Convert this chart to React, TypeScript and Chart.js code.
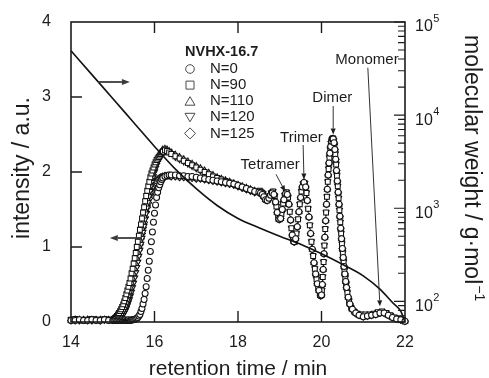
import React, { useEffect, useRef } from 'react';
import { Chart, registerables } from 'chart.js';

Chart.register(...registerables);

const FONT = '"Liberation Sans", Arial, sans-serif';
const INK = '#1c1c1c';

// ---- axis tick labels ----
const X_TICKS = [14, 16, 18, 20, 22];
const Y_TICKS = [0, 1, 2, 3, 4];
const MW_EXPONENTS = [2, 3, 4, 5];

// ---- legend ----
const LEGEND_TITLE = 'NVHX-16.7';
const SERIES_NAMES = ['N=0', 'N=90', 'N=110', 'N=120', 'N=125'];

// ---- retention time grid for the leading part of every trace (min) ----
const TIME_HEAD = [
  14.0, 14.1, 14.2, 14.3, 14.4, 14.5, 14.6, 14.7, 14.8, 14.9, 15.0,
  15.025, 15.05, 15.075, 15.1,
  15.125, 15.15, 15.175, 15.2,
  15.225, 15.25, 15.275, 15.3,
  15.325, 15.35, 15.375, 15.4,
  15.425, 15.45, 15.475, 15.5,
  15.525, 15.55, 15.575, 15.6,
  15.625, 15.65, 15.675, 15.7,
  15.725, 15.75, 15.775, 15.8,
  15.825, 15.85, 15.875, 15.9,
  15.925, 15.95, 15.975, 16.0,
  16.025, 16.05, 16.075, 16.1,
  16.125, 16.15, 16.175, 16.2,
  16.25, 16.3, 16.35, 16.4,
  16.5, 16.6, 16.7, 16.8, 16.9, 17.0, 17.1, 17.2, 17.3, 17.4,
  17.5, 17.6, 17.7, 17.8, 17.9, 18.0, 18.1, 18.2, 18.3, 18.4,
];

// ---- intensities on TIME_HEAD ----
const I_N0 = [
  0.02, 0.02, 0.03, 0.02, 0.02, 0.03, 0.02, 0.02, 0.03, 0.02, 0.02,
  0.02, 0.02, 0.03, 0.02,
  0.02, 0.03, 0.02, 0.02,
  0.03, 0.02, 0.02, 0.03,
  0.02, 0.02, 0.03, 0.02,
  0.02, 0.03, 0.03, 0.03,
  0.035, 0.04, 0.05, 0.06,
  0.08, 0.1, 0.14, 0.18,
  0.24, 0.3, 0.38, 0.47,
  0.58, 0.69, 0.81, 0.94,
  1.07, 1.2, 1.33, 1.45,
  1.56, 1.66, 1.73, 1.79,
  1.83, 1.87, 1.9, 1.92,
  1.94, 1.95, 1.96, 1.96,
  1.96, 1.95, 1.95, 1.94, 1.94, 1.93, 1.92, 1.91, 1.9, 1.89,
  1.88, 1.87, 1.86, 1.85, 1.84, 1.82, 1.8, 1.78, 1.76, 1.74,
];
const I_N90 = [
  0.03, 0.04, 0.03, 0.02, 0.03, 0.04, 0.03, 0.03, 0.04, 0.03, 0.03,
  0.04, 0.05, 0.065, 0.08,
  0.1, 0.12, 0.145, 0.17,
  0.2, 0.235, 0.275, 0.32,
  0.37, 0.42, 0.47, 0.52,
  0.58, 0.65, 0.71, 0.78,
  0.85, 0.92, 1.0, 1.07,
  1.15, 1.23, 1.3, 1.38,
  1.46, 1.53, 1.61, 1.68,
  1.75, 1.81, 1.87, 1.93,
  1.98, 2.02, 2.06, 2.1,
  2.13, 2.16, 2.18, 2.2,
  2.22, 2.24, 2.26, 2.27,
  2.29, 2.28, 2.26, 2.24,
  2.21, 2.18, 2.15, 2.12, 2.09, 2.06, 2.03, 2.0, 1.97, 1.94,
  1.92, 1.9, 1.88, 1.86, 1.84, 1.82, 1.8, 1.78, 1.76, 1.74,
];
const I_N110 = [
  0.02, 0.03, 0.03, 0.02, 0.03, 0.03, 0.02, 0.03, 0.03, 0.02, 0.03,
  0.035, 0.04, 0.045, 0.05,
  0.06, 0.075, 0.09, 0.11,
  0.135, 0.16, 0.19, 0.22,
  0.26, 0.3, 0.35, 0.4,
  0.46, 0.52, 0.58, 0.64,
  0.71, 0.78, 0.85, 0.93,
  1.01, 1.09, 1.17, 1.25,
  1.33, 1.41, 1.49, 1.57,
  1.64, 1.72, 1.79, 1.85,
  1.91, 1.97, 2.02, 2.06,
  2.1, 2.14, 2.17, 2.2,
  2.23, 2.26, 2.28, 2.3,
  2.31, 2.3, 2.28, 2.26,
  2.23, 2.2, 2.17, 2.14, 2.11, 2.08, 2.05, 2.02, 1.99, 1.96,
  1.93, 1.91, 1.89, 1.87, 1.85, 1.83, 1.81, 1.79, 1.77, 1.75,
];
const I_N120 = [
  0.03, 0.02, 0.03, 0.03, 0.02, 0.03, 0.03, 0.02, 0.03, 0.03, 0.03,
  0.03, 0.035, 0.035, 0.04,
  0.045, 0.05, 0.06, 0.07,
  0.085, 0.1, 0.125, 0.15,
  0.18, 0.22, 0.26, 0.3,
  0.35, 0.4, 0.46, 0.52,
  0.59, 0.66, 0.73, 0.8,
  0.88, 0.96, 1.04, 1.12,
  1.2, 1.28, 1.37, 1.45,
  1.53, 1.6, 1.68, 1.75,
  1.82, 1.88, 1.94, 2.0,
  2.05, 2.09, 2.13, 2.16,
  2.19, 2.21, 2.23, 2.25,
  2.27, 2.28, 2.27, 2.25,
  2.2, 2.17, 2.14, 2.11, 2.08, 2.05, 2.02, 1.99, 1.96, 1.93,
  1.91, 1.89, 1.87, 1.85, 1.83, 1.81, 1.79, 1.77, 1.75, 1.73,
];
const I_N125 = [
  0.02, 0.03, 0.02, 0.03, 0.03, 0.02, 0.03, 0.02, 0.03, 0.03, 0.03,
  0.03, 0.035, 0.04, 0.04,
  0.05, 0.06, 0.075, 0.09,
  0.11, 0.135, 0.16, 0.19,
  0.23, 0.27, 0.31, 0.36,
  0.42, 0.48, 0.54, 0.6,
  0.67, 0.74, 0.81, 0.88,
  0.96, 1.03, 1.11, 1.18,
  1.26, 1.33, 1.4, 1.47,
  1.53, 1.59, 1.65, 1.7,
  1.74, 1.78, 1.81, 1.84,
  1.86, 1.88, 1.9, 1.91,
  1.92, 1.93, 1.93, 1.94,
  1.95, 1.95, 1.95, 1.94,
  1.94, 1.93, 1.93, 1.92, 1.92, 1.91, 1.91, 1.9, 1.89, 1.88,
  1.87, 1.86, 1.85, 1.84, 1.83, 1.81, 1.79, 1.77, 1.75, 1.73,
];

// ---- oligomer region (time, intensity); the traces coincide here ----
const TAIL_A: [number, number][] = [
  [18.5, 1.73], [18.54, 1.72], [18.58, 1.7], [18.62, 1.67], [18.66, 1.63], [18.7, 1.62],
  [18.74, 1.65], [18.78, 1.69], [18.82, 1.72], [18.86, 1.7], [18.9, 1.6], [18.94, 1.46],
  [18.98, 1.37], [19.02, 1.38], [19.06, 1.5], [19.1, 1.63], [19.14, 1.71], [19.18, 1.7],
  [19.22, 1.57], [19.26, 1.36], [19.3, 1.16], [19.34, 1.07], [19.38, 1.11], [19.42, 1.27],
  [19.46, 1.47], [19.5, 1.66], [19.54, 1.8], [19.58, 1.86], [19.62, 1.8], [19.66, 1.62],
  [19.7, 1.4], [19.74, 1.18], [19.78, 0.97], [19.82, 0.79], [19.86, 0.64], [19.9, 0.51],
  [19.94, 0.42], [19.98, 0.35],
  [20.0, 0.36], [20.02, 0.5], [20.04, 0.7], [20.06, 0.91], [20.08, 1.13], [20.1, 1.35],
  [20.12, 1.57], [20.14, 1.77], [20.16, 1.96], [20.18, 2.12], [20.2, 2.25], [20.22, 2.34],
  [20.24, 2.41], [20.26, 2.44], [20.28, 2.44], [20.3, 2.39], [20.32, 2.3], [20.34, 2.17],
  [20.36, 2.02], [20.38, 1.88], [20.4, 1.73], [20.42, 1.57], [20.44, 1.41], [20.46, 1.25],
  [20.48, 1.11], [20.5, 0.98], [20.52, 0.86], [20.54, 0.74], [20.56, 0.64], [20.58, 0.54],
  [20.6, 0.46], [20.64, 0.33], [20.68, 0.24], [20.74, 0.17], [20.82, 0.12], [20.9, 0.09],
  [21.0, 0.07], [21.1, 0.08], [21.2, 0.09], [21.3, 0.1], [21.4, 0.12], [21.5, 0.12],
  [21.6, 0.09], [21.7, 0.06], [21.8, 0.04], [21.9, 0.03], [22.0, 0.01],
];
const TAIL_B: [number, number][] = [
  [18.52, 1.75], [18.56, 1.73], [18.6, 1.71], [18.64, 1.67], [18.68, 1.64], [18.72, 1.64],
  [18.76, 1.68], [18.8, 1.72], [18.84, 1.74], [18.88, 1.68], [18.92, 1.54], [18.96, 1.42],
  [19.0, 1.37], [19.04, 1.44], [19.08, 1.58], [19.12, 1.69], [19.16, 1.73], [19.2, 1.66],
  [19.24, 1.47], [19.28, 1.25], [19.32, 1.1], [19.36, 1.07], [19.4, 1.18], [19.44, 1.37],
  [19.48, 1.57], [19.52, 1.74], [19.56, 1.84], [19.6, 1.85], [19.64, 1.72], [19.68, 1.51],
  [19.72, 1.29], [19.76, 1.07], [19.8, 0.88], [19.84, 0.71], [19.88, 0.57], [19.92, 0.46],
  [19.96, 0.38],
  [20.01, 0.42], [20.03, 0.6], [20.05, 0.8], [20.07, 1.02], [20.09, 1.24], [20.11, 1.46],
  [20.13, 1.67], [20.15, 1.87], [20.17, 2.04], [20.19, 2.19], [20.21, 2.3], [20.23, 2.38],
  [20.25, 2.43], [20.27, 2.45], [20.29, 2.42], [20.31, 2.35], [20.33, 2.24], [20.35, 2.1],
  [20.37, 1.95], [20.39, 1.81], [20.41, 1.65], [20.43, 1.49], [20.45, 1.33], [20.47, 1.18],
  [20.49, 1.04], [20.51, 0.92], [20.53, 0.8], [20.55, 0.69], [20.57, 0.59], [20.59, 0.5],
  [20.62, 0.39], [20.66, 0.28], [20.71, 0.19], [20.78, 0.14], [20.86, 0.11], [20.95, 0.1],
  [21.05, 0.1], [21.15, 0.1], [21.25, 0.11], [21.35, 0.13], [21.45, 0.14], [21.55, 0.12],
  [21.65, 0.09], [21.75, 0.06], [21.85, 0.04], [21.95, 0.02],
];

// ---- calibration curve (time, molecular weight) ----
const CAL_T = [14.0, 14.5, 15.0, 15.5, 16.0, 16.5, 17.0, 17.5, 18.0, 18.5, 19.0, 19.5, 20.0, 20.5, 21.0, 21.4, 21.7, 21.9, 22.0];
const CAL_MW = [49200, 27200, 15100, 8340, 4610, 2630, 1620, 1070, 776, 617, 500, 410, 324, 250, 188, 135, 97, 78, 60];

// ---- peak annotations (text position and arrow, in time / intensity units) ----
const ANNOTATIONS = [
  { text: 'Tetramer', tx: 18.77, ty: 2.09, x1: 18.91, y1: 1.97, x2: 19.13, y2: 1.74 },
  { text: 'Trimer', tx: 19.52, ty: 2.45, x1: 19.56, y1: 2.36, x2: 19.58, y2: 1.9 },
  { text: 'Dimer', tx: 20.26, ty: 2.99, x1: 20.28, y1: 2.88, x2: 20.28, y2: 2.5 },
  { text: 'Monomer', tx: 21.09, ty: 3.49, x1: 21.11, y1: 3.39, x2: 21.4, y2: 0.21 },
];
// axis-pointer arrows (time from, time to, intensity)
const AXIS_ARROWS = [
  { x1: 14.65, x2: 15.41, y: 3.2 },
  { x1: 15.7, x2: 14.93, y: 1.12 },
];

const STYLES = [
  { pointStyle: 'circle', rotation: 0, radius: 3.0 },
  { pointStyle: 'rect', rotation: 0, radius: 3.4 },
  { pointStyle: 'triangle', rotation: 0, radius: 3.4 },
  { pointStyle: 'triangle', rotation: 180, radius: 3.4 },
  { pointStyle: 'rectRot', rotation: 0, radius: 3.4 },
];
const HEADS = [I_N0, I_N90, I_N110, I_N120, I_N125];
const TAILS = [TAIL_A, TAIL_B, TAIL_A, TAIL_B, TAIL_A];

function arrow(ctx: CanvasRenderingContext2D, x1: number, y1: number, x2: number, y2: number, head: number, half: number, lw: number) {
  const ang = Math.atan2(y2 - y1, x2 - x1);
  const bx = x2 - head * Math.cos(ang);
  const by = y2 - head * Math.sin(ang);
  ctx.lineWidth = lw;
  ctx.beginPath();
  ctx.moveTo(x1, y1);
  ctx.lineTo(bx, by);
  ctx.stroke();
  ctx.beginPath();
  ctx.moveTo(x2, y2);
  ctx.lineTo(bx + half * Math.sin(ang), by - half * Math.cos(ang));
  ctx.lineTo(bx - half * Math.sin(ang), by + half * Math.cos(ang));
  ctx.closePath();
  ctx.fill();
}

function legendSymbol(ctx: CanvasRenderingContext2D, kind: number, x: number, y: number) {
  ctx.beginPath();
  if (kind === 0) {
    ctx.arc(x, y, 4.3, 0, Math.PI * 2);
  } else if (kind === 1) {
    ctx.rect(x - 4, y - 4, 8, 8);
  } else if (kind === 2) {
    ctx.moveTo(x, y - 4.5);
    ctx.lineTo(x + 5, y + 4);
    ctx.lineTo(x - 5, y + 4);
    ctx.closePath();
  } else if (kind === 3) {
    ctx.moveTo(x, y + 4.5);
    ctx.lineTo(x + 5, y - 4);
    ctx.lineTo(x - 5, y - 4);
    ctx.closePath();
  } else {
    ctx.moveTo(x, y - 5.5);
    ctx.lineTo(x + 5.5, y);
    ctx.lineTo(x, y + 5.5);
    ctx.lineTo(x - 5.5, y);
    ctx.closePath();
  }
  ctx.stroke();
}

const overlay = {
  id: 'overlay',
  afterDraw(chart: any) {
    const { ctx, chartArea: a, scales } = chart;
    const xs = scales.x;
    const ys = scales.y;
    const y2 = scales.y2;
    ctx.save();
    ctx.strokeStyle = INK;
    ctx.fillStyle = INK;

    // frame
    ctx.lineWidth = 1.6;
    ctx.strokeRect(a.left, a.top, a.right - a.left, a.bottom - a.top);

    // inner ticks
    ctx.lineWidth = 1.4;
    ctx.beginPath();
    for (const v of X_TICKS) {
      if (v <= xs.min || v >= xs.max) continue;
      const px = xs.getPixelForValue(v);
      ctx.moveTo(px, a.bottom);
      ctx.lineTo(px, a.bottom - 11);
      ctx.moveTo(px, a.top);
      ctx.lineTo(px, a.top + 11);
    }
    for (const v of Y_TICKS) {
      if (v <= ys.min || v >= ys.max) continue;
      const py = ys.getPixelForValue(v);
      ctx.moveTo(a.left, py);
      ctx.lineTo(a.left + 11, py);
    }
    ctx.stroke();
    ctx.lineWidth = 1.1;
    ctx.beginPath();
    for (let e = 1; e <= 5; e++) {
      for (let m = 1; m <= 9; m++) {
        const v = m * Math.pow(10, e);
        if (v < y2.min || v > y2.max) continue;
        const py = y2.getPixelForValue(v);
        const len = m === 1 ? 11 : 7;
        ctx.moveTo(a.right, py);
        ctx.lineTo(a.right - len, py);
      }
    }
    ctx.stroke();

    // right tick labels 10^n
    ctx.textAlign = 'left';
    ctx.textBaseline = 'middle';
    for (const e of MW_EXPONENTS) {
      const py = y2.getPixelForValue(Math.pow(10, e));
      ctx.font = `16px ${FONT}`;
      ctx.fillText('10', a.right + 10, py + 5);
      const w = ctx.measureText('10').width;
      ctx.font = `11px ${FONT}`;
      ctx.fillText(String(e), a.right + 10 + w + 0.5, py - 3);
    }

    // axis titles
    ctx.font = `21px ${FONT}`;
    ctx.textAlign = 'center';
    ctx.textBaseline = 'alphabetic';
    ctx.fillText('retention time / min', (a.left + a.right) / 2, 375);

    ctx.save();
    ctx.translate(29, 168);
    ctx.rotate(-Math.PI / 2);
    ctx.font = `23px ${FONT}`;
    ctx.fillText('intensity / a.u.', 0, 0);
    ctx.restore();

    ctx.save();
    ctx.translate(465, 35);
    ctx.rotate(Math.PI / 2);
    ctx.font = `23px ${FONT}`;
    ctx.textAlign = 'left';
    const main = 'molecular weight / g\u00b7mol';
    ctx.fillText(main, 0, 0);
    const mw = ctx.measureText(main).width;
    ctx.font = `14px ${FONT}`;
    ctx.fillText('\u22121', mw + 1, -10);
    ctx.restore();

    // legend
    ctx.font = `bold 14.5px ${FONT}`;
    ctx.textAlign = 'left';
    ctx.textBaseline = 'middle';
    ctx.fillText(LEGEND_TITLE, 185, 52);
    ctx.font = `15px ${FONT}`;
    SERIES_NAMES.forEach((name, i) => {
      const y = 69 + i * 16.1;
      ctx.strokeStyle = '#4a4a4a';
      ctx.lineWidth = 1;
      legendSymbol(ctx, i, 190, y);
      ctx.fillStyle = INK;
      ctx.fillText(name, 210, y);
    });

    // annotations
    ctx.strokeStyle = INK;
    ctx.fillStyle = INK;
    ctx.font = `15px ${FONT}`;
    ctx.textAlign = 'center';
    ctx.textBaseline = 'middle';
    for (const an of ANNOTATIONS) {
      ctx.fillText(an.text, xs.getPixelForValue(an.tx), ys.getPixelForValue(an.ty));
      arrow(ctx, xs.getPixelForValue(an.x1), ys.getPixelForValue(an.y1), xs.getPixelForValue(an.x2), ys.getPixelForValue(an.y2), 6, 2.5, 0.9);
    }
    ctx.strokeStyle = '#3a3a3a';
    ctx.fillStyle = '#3a3a3a';
    for (const ar of AXIS_ARROWS) {
      const py = ys.getPixelForValue(ar.y);
      arrow(ctx, xs.getPixelForValue(ar.x1), py, xs.getPixelForValue(ar.x2), py, 8, 3, 1.8);
    }
    ctx.restore();
  },
};

export default function App() {
  const ref = useRef<HTMLCanvasElement | null>(null);
  useEffect(() => {
    if (!ref.current) return;
    const traceSets = SERIES_NAMES.map((name, i) => {
      const head = TIME_HEAD.map((t, k) => ({ x: t, y: HEADS[i][k] }));
      const tail = TAILS[i].map(([t, v]) => ({ x: t, y: v }));
      return {
        label: name,
        data: head.concat(tail),
        yAxisID: 'y',
        showLine: false,
        pointStyle: STYLES[i].pointStyle,
        rotation: STYLES[i].rotation,
        pointRadius: STYLES[i].radius,
        pointBorderWidth: 1.05,
        pointBorderColor: '#111',
        pointBackgroundColor: '#ffffff',
        borderColor: '#111',
        backgroundColor: '#ffffff',
        clip: 6,
      };
    });
    const calib = {
      label: 'calibration',
      data: CAL_T.map((t, k) => ({ x: t, y: CAL_MW[k] })),
      yAxisID: 'y2',
      showLine: true,
      pointRadius: 0,
      borderColor: '#111',
      borderWidth: 1.6,
      cubicInterpolationMode: 'monotone',
      clip: 2,
    };
    const tickFont = { family: FONT, size: 16 };
    const chart = new Chart(ref.current, {
      type: 'scatter',
      data: { datasets: [calib, ...traceSets] as any },
      options: {
        animation: false,
        responsive: false,
        devicePixelRatio: 1,
        events: [],
        layout: { padding: { top: 22, left: 0, right: 0, bottom: 0 } },
        plugins: { legend: { display: false }, tooltip: { enabled: false } },
        scales: {
          x: {
            type: 'linear',
            min: 14,
            max: 22,
            afterBuildTicks: (s: any) => { s.ticks = X_TICKS.map((v) => ({ value: v })); },
            ticks: { font: tickFont, color: INK, padding: 3, maxRotation: 0 },
            grid: { display: false },
            border: { display: false },
            afterFit: (s: any) => { s.height = 56; },
          },
          y: {
            type: 'linear',
            position: 'left',
            min: 0,
            max: 4,
            afterBuildTicks: (s: any) => { s.ticks = Y_TICKS.map((v) => ({ value: v })); },
            ticks: { font: tickFont, color: INK, padding: 12 },
            grid: { display: false },
            border: { display: false },
            afterFit: (s: any) => { s.width = 71; },
          },
          y2: {
            type: 'logarithmic',
            position: 'right',
            min: 60,
            max: 100000,
            ticks: { display: false },
            grid: { display: false },
            border: { display: false },
            afterFit: (s: any) => { s.width = 84; },
          },
        },
      } as any,
      plugins: [overlay],
    });
    return () => chart.destroy();
  }, []);
  return (
    <div style={{ position: 'absolute', left: 0, top: 0, width: 489, height: 378, background: '#fff' }}>
      <canvas ref={ref} width={489} height={378} style={{ display: 'block', width: 489, height: 378 }} />
    </div>
  );
}
